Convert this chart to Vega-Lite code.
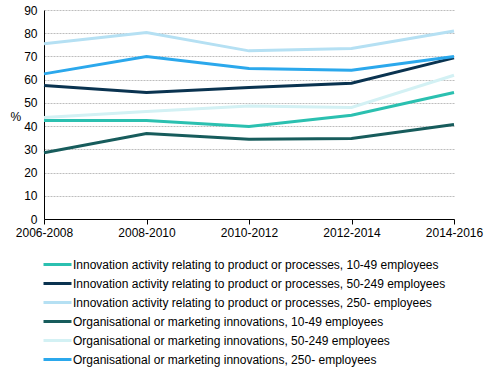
{
  "$schema": "https://vega.github.io/schema/vega-lite/v6.json",
  "width": 410,
  "height": 209,
  "autosize": {"type": "none"},
  "padding": {"left": 44, "top": 10, "right": 37, "bottom": 159},
  "background": "white",
  "config": {
    "font": "Liberation Sans",
    "view": {"stroke": null}
  },
  "data": {
    "values": [
      {"period": "2006-2008", "series": "Innovation activity relating to product or processes, 10-49 employees", "value": 42.4},
      {"period": "2008-2010", "series": "Innovation activity relating to product or processes, 10-49 employees", "value": 42.4},
      {"period": "2010-2012", "series": "Innovation activity relating to product or processes, 10-49 employees", "value": 39.8},
      {"period": "2012-2014", "series": "Innovation activity relating to product or processes, 10-49 employees", "value": 44.7},
      {"period": "2014-2016", "series": "Innovation activity relating to product or processes, 10-49 employees", "value": 54.5},
      {"period": "2006-2008", "series": "Innovation activity relating to product or processes, 50-249 employees", "value": 57.5},
      {"period": "2008-2010", "series": "Innovation activity relating to product or processes, 50-249 employees", "value": 54.5},
      {"period": "2010-2012", "series": "Innovation activity relating to product or processes, 50-249 employees", "value": 56.6},
      {"period": "2012-2014", "series": "Innovation activity relating to product or processes, 50-249 employees", "value": 58.5},
      {"period": "2014-2016", "series": "Innovation activity relating to product or processes, 50-249 employees", "value": 69.4},
      {"period": "2006-2008", "series": "Innovation activity relating to product or processes, 250- employees", "value": 75.5},
      {"period": "2008-2010", "series": "Innovation activity relating to product or processes, 250- employees", "value": 80.3},
      {"period": "2010-2012", "series": "Innovation activity relating to product or processes, 250- employees", "value": 72.4},
      {"period": "2012-2014", "series": "Innovation activity relating to product or processes, 250- employees", "value": 73.4},
      {"period": "2014-2016", "series": "Innovation activity relating to product or processes, 250- employees", "value": 81.0},
      {"period": "2006-2008", "series": "Organisational or marketing innovations, 10-49 employees", "value": 28.5},
      {"period": "2008-2010", "series": "Organisational or marketing innovations, 10-49 employees", "value": 36.8},
      {"period": "2010-2012", "series": "Organisational or marketing innovations, 10-49 employees", "value": 34.3},
      {"period": "2012-2014", "series": "Organisational or marketing innovations, 10-49 employees", "value": 34.7},
      {"period": "2014-2016", "series": "Organisational or marketing innovations, 10-49 employees", "value": 40.7},
      {"period": "2006-2008", "series": "Organisational or marketing innovations, 50-249 employees", "value": 43.7},
      {"period": "2008-2010", "series": "Organisational or marketing innovations, 50-249 employees", "value": 46.3},
      {"period": "2010-2012", "series": "Organisational or marketing innovations, 50-249 employees", "value": 48.7},
      {"period": "2012-2014", "series": "Organisational or marketing innovations, 50-249 employees", "value": 48.0},
      {"period": "2014-2016", "series": "Organisational or marketing innovations, 50-249 employees", "value": 61.9},
      {"period": "2006-2008", "series": "Organisational or marketing innovations, 250- employees", "value": 62.5},
      {"period": "2008-2010", "series": "Organisational or marketing innovations, 250- employees", "value": 70.0},
      {"period": "2010-2012", "series": "Organisational or marketing innovations, 250- employees", "value": 64.8},
      {"period": "2012-2014", "series": "Organisational or marketing innovations, 250- employees", "value": 64.1},
      {"period": "2014-2016", "series": "Organisational or marketing innovations, 250- employees", "value": 70.0}
    ]
  },
  "mark": {"type": "line", "strokeWidth": 3},
  "encoding": {
    "x": {
      "field": "period", "type": "ordinal",
      "scale": {"type": "point", "padding": 0},
      "axis": {
        "title": null, "labelAngle": 0, "labelFontSize": 12, "labelColor": "#000",
        "domainColor": "#000", "tickColor": "#000", "tickSize": 5, "labelPadding": 3, "grid": false
      }
    },
    "y": {
      "field": "value", "type": "quantitative",
      "scale": {"domain": [0, 90]},
      "axis": {
        "title": "%", "titleAngle": 0, "titleFontSize": 12, "titleFontWeight": "normal", "titleColor": "#000",
        "titleX": -34, "titleY": 113, "titleAlign": "left",
        "values": [0,10,20,30,40,50,60,70,80,90],
        "labelFontSize": 12, "labelColor": "#000", "labelPadding": 7,
        "domainColor": "#000", "ticks": false,
        "grid": true, "gridColor": "#bdbdbd", "gridDash": [2, 1], "gridWidth": 1
      }
    },
    "color": {
      "field": "series", "type": "nominal",
      "scale": {
        "domain": [
          "Innovation activity relating to product or processes, 10-49 employees",
          "Innovation activity relating to product or processes, 50-249 employees",
          "Innovation activity relating to product or processes, 250- employees",
          "Organisational or marketing innovations, 10-49 employees",
          "Organisational or marketing innovations, 50-249 employees",
          "Organisational or marketing innovations, 250- employees"
        ],
        "range": ["#2bc0b0", "#0a3350", "#b5e0f3", "#175c5c", "#d3f1f4", "#2ba8ec"]
      },
      "legend": {
        "title": null, "orient": "none", "legendX": 5, "legendY": 246,
        "direction": "vertical", "symbolType": "M-2,0H2", "symbolSize": 196, "symbolStrokeWidth": 3,
        "labelFontSize": 12, "labelColor": "#000", "labelOffset": 7, "rowPadding": 4,
        "labelLimit": 500
      }
    }
  }
}
